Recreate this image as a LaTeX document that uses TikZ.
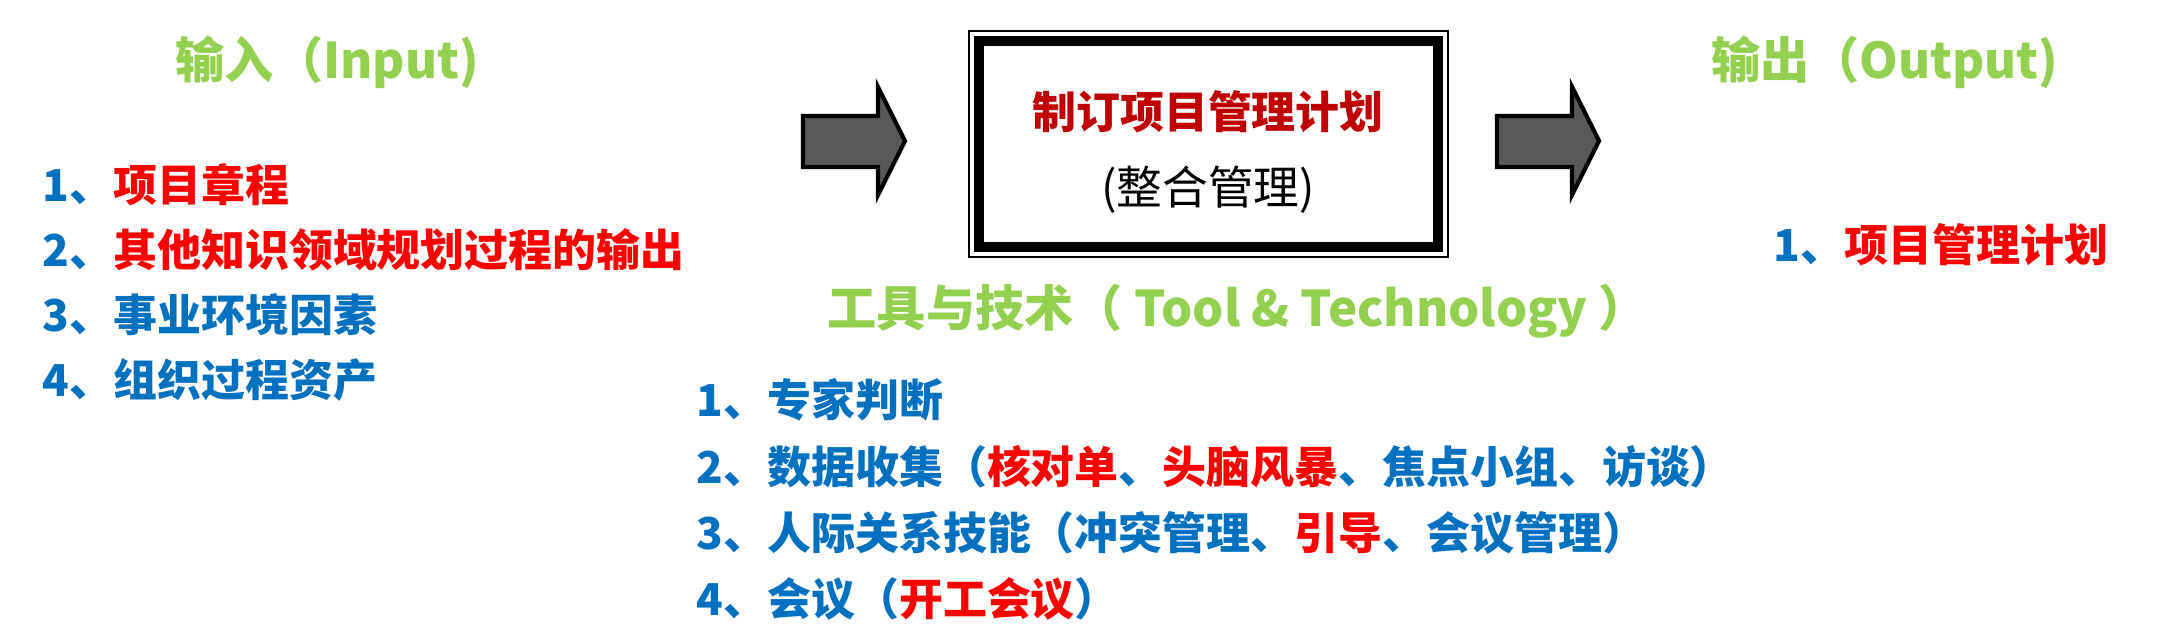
\documentclass[tikz,border=0pt]{standalone}
\usepackage{fontspec}
\setmainfont{Noto Sans CJK SC}
\definecolor{ttlgreen}{HTML}{92D050}
\definecolor{itemblue}{HTML}{0070C0}
\definecolor{itemred}{HTML}{FF0000}
\definecolor{boxred}{HTML}{C00000}
\definecolor{arrowgray}{HTML}{595959}

\begin{document}
\begin{tikzpicture}[line cap=round,line join=round,x=1.0cm,y=1.0cm,
	title/.style={font=\fontsize{14}{17}\selectfont\bfseries,color=ttlgreen,anchor=west,inner sep=0pt},
	item/.style={font=\fontsize{12.5}{15}\selectfont\bfseries,color=itemblue,anchor=west,inner sep=0pt},
	bigarrow/.style={fill=arrowgray,draw=black,line width=1.2pt,line join=miter}]
			\useasboundingbox (0,0) rectangle (21.61,-6.42);
			% block arrows in and out of the process
			\foreach \ax in {0,6.94}
				\draw [bigarrow,shift={(\ax,0)}] (8.03,-1.16) -- (8.78,-1.16) -- (8.78,-0.87) -- (9.05,-1.41) -- (8.78,-1.95) -- (8.78,-1.67) -- (8.03,-1.67) -- cycle;
			% process box
			\draw [line width=0.6pt,line join=miter] (9.69,-0.31) rectangle (14.48,-2.57);
			\draw [line width=2.85pt,line join=miter] (9.79,-0.41) rectangle (14.38,-2.47);
			\node [font=\fontsize{12.5}{15}\selectfont\bfseries,color=boxred] (procname) at (12.08,-1.12) {制订项目管理计划};
			\node [font=\fontsize{13}{16}\selectfont] (procarea) at (12.08,-1.90) {(整合管理)};
			% titles
			\node [title] (intitle) at (1.75,-0.62) {输入（Input)};
			\node [title] (outtitle) at (17.11,-0.62) {输出（Output)};
			\node [title] (tooltitle) at (8.27,-3.11) {工具与技术（ Tool \& Technology ）};
			% inputs
			\node [item] (in1) at (0.42,-1.85) {1、\textcolor{itemred}{项目章程}};
			\node [item] (in2) at (0.42,-2.50) {2、\textcolor{itemred}{其他知识领域规划过程的输出}};
			\node [item] (in3) at (0.42,-3.15) {3、事业环境因素};
			\node [item] (in4) at (0.42,-3.80) {4、组织过程资产};
			% tools and techniques
			\node [item] (tool1) at (6.96,-4.00) {1、专家判断};
			\node [item] (tool2) at (6.96,-4.67) {2、数据收集（\textcolor{itemred}{核对单}、\textcolor{itemred}{头脑风暴}、焦点小组、访谈）};
			\node [item] (tool3) at (6.96,-5.33) {3、人际关系技能（冲突管理、\textcolor{itemred}{引导}、会议管理）};
			\node [item] (tool4) at (6.96,-5.99) {4、会议（\textcolor{itemred}{开工会议}）};
			% output
			\node [item] (out1) at (17.73,-2.45) {1、\textcolor{itemred}{项目管理计划}};
		\end{tikzpicture}
\end{document}
